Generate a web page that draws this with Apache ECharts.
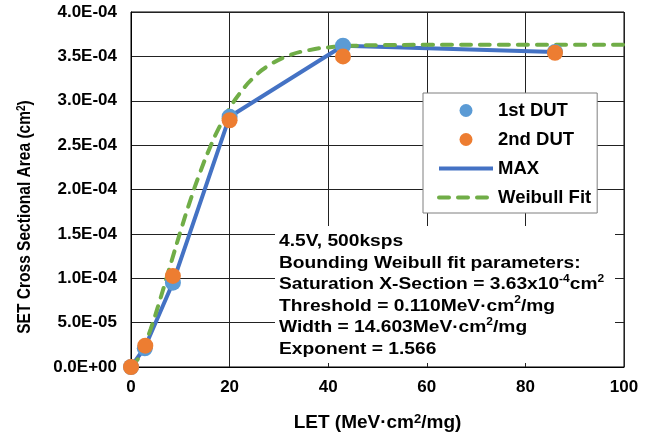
<!DOCTYPE html>
<html><head><meta charset="utf-8">
<script src="https://cdn.jsdelivr.net/npm/echarts@6/dist/echarts.min.js"></script>
<style>html,body{margin:0;padding:0;background:#fff}#c{width:652px;height:441px}</style>
</head><body><div id="c"></div>
<script>
const xTicks = [0, 20, 40, 60, 80, 100];
const dut1LET = [0, 2.8, 8.5, 20, 43, 86];
const dut1XS = [0, 2.1e-5, 0.95e-4, 2.82e-4, 3.62e-4, 3.55e-4];
const dut2LET = [0, 2.9, 8.5, 20, 43, 86];
const dut2XS = [0, 2.4e-5, 1.026e-4, 2.78e-4, 3.50e-4, 3.54e-4];
const maxLET = [0, 2.8, 8.5, 20, 43, 86];
const maxXS = [0, 2.2e-5, 0.95e-4, 2.82e-4, 3.62e-4, 3.55e-4];
const weibullLET = [0.11, 2, 4, 6, 8, 10, 12, 14, 16, 18, 20, 22, 25, 28, 32, 36, 40, 45, 50, 60, 80, 100];
const weibullXS = [0, 1.45e-5, 4.30e-5, 7.78e-5, 1.151e-4, 1.521e-4, 1.872e-4, 2.190e-4, 2.471e-4, 2.712e-4, 2.913e-4, 3.079e-4, 3.268e-4, 3.399e-4, 3.509e-4, 3.569e-4, 3.601e-4, 3.619e-4, 3.626e-4, 3.63e-4, 3.63e-4, 3.63e-4];

const zip = (a, b) => a.map((v, i) => [v, b[i]]);
const FONT = '"Liberation Sans", Arial, sans-serif';
function fmtY(v) {
  if (Math.abs(v) < 1e-12) return '0.0E+00';
  const s = v.toExponential(1);
  const parts = s.split('e');
  const n = parseInt(parts[1], 10);
  return parts[0] + 'E' + (n < 0 ? '-' : '+') + String(Math.abs(n)).padStart(2, '0');
}
const chart = echarts.init(document.getElementById('c'), null, {renderer: 'canvas'});
chart.setOption({
  animation: false,
  backgroundColor: '#fff',
  grid: {left: 131, right: 28, top: 12, bottom: 74, show: true, borderColor: '#000', borderWidth: 1},
  xAxis: {
    type: 'value', min: xTicks[0], max: xTicks[xTicks.length - 1], interval: 20,
    axisLine: {lineStyle: {color: '#000', width: 1}},
    axisTick: {show: false},
    splitLine: {show: true, lineStyle: {color: '#222', width: 1}},
    axisLabel: {fontSize: 17, fontWeight: 'bold', fontFamily: FONT, color: '#000', margin: 12},
    name: 'LET (MeV·cm{sup|2}/mg)', nameLocation: 'middle', nameGap: 46,
    nameTextStyle: {fontSize: 19, fontWeight: 'bold', fontFamily: FONT, color: '#000',
      rich: {sup: {fontSize: 13, fontWeight: 'bold', fontFamily: FONT, color: '#000', verticalAlign: 'top', lineHeight: 12}}}
  },
  yAxis: {
    type: 'value', min: 0, max: 4e-4, interval: 5e-5,
    axisLine: {show: true, lineStyle: {color: '#000', width: 1}},
    axisTick: {show: false},
    splitLine: {show: true, lineStyle: {color: '#222', width: 1}},
    axisLabel: {fontSize: 17, fontWeight: 'bold', fontFamily: FONT, color: '#000', margin: 14, formatter: fmtY}
  },
  legend: {
    orient: 'vertical', left: 423, top: 93,
    padding: [8, 6, 6, 14], itemGap: 10, itemWidth: 54, itemHeight: 13,
    backgroundColor: '#fff', borderColor: '#7f7f7f', borderWidth: 1,
    textStyle: {fontSize: 18.5, fontWeight: 'bold', fontFamily: FONT, color: '#000'},
    lineStyle: {width: 4},
    data: ['1st DUT', '2nd DUT',
      {name: 'MAX', itemStyle: {opacity: 0}, lineStyle: {width: 4}},
      {name: 'Weibull Fit', itemStyle: {opacity: 0}, lineStyle: {width: 4}}]
  },
  graphic: [
    {type: 'rect', z: 1, shape: {x: 275, y: 226, width: 340, height: 137}, style: {fill: '#fff'}},
    {type: 'text', z: 2, x: 279, y: 231, scaleX: 1.2, style: {
      text: '4.5V, 500ksps\nBounding Weibull fit parameters:\nSaturation X-Section = 3.63x10{sup|-4}cm{sup|2}\nThreshold = 0.110MeV·cm{sup|2}/mg\nWidth = 14.603MeV·cm{sup|2}/mg\nExponent = 1.566',
      font: 'bold 16px ' + FONT, fill: '#000', lineHeight: 21.5,
      rich: {sup: {fontSize: 10, fontWeight: 'bold', fontFamily: FONT, fill: '#000', verticalAlign: 'top', lineHeight: 12}}
    }},
    {type: 'text', z: 2, x: 25, y: 217, rotation: Math.PI / 2, scaleX: 0.84, style: {
      text: 'SET Cross Sectional Area (cm{sup|2})',
      font: 'bold 18.5px ' + FONT, fill: '#000', align: 'center', verticalAlign: 'middle',
      rich: {sup: {fontSize: 12, fontWeight: 'bold', fontFamily: FONT, fill: '#000', verticalAlign: 'top', lineHeight: 13}}
    }}
  ],
  series: [
    {name: 'MAX', type: 'line', z: 3, data: zip(maxLET, maxXS), symbol: 'none',
      lineStyle: {color: '#4472C4', width: 4}, itemStyle: {color: '#4472C4'}},
    {name: 'Weibull Fit', type: 'line', z: 4, data: zip(weibullLET, weibullXS), symbol: 'none', smooth: true,
      lineStyle: {color: '#70AD47', width: 4, type: [10, 9], cap: 'round'}, itemStyle: {color: '#70AD47'}},
    {name: '1st DUT', type: 'scatter', z: 5, data: zip(dut1LET, dut1XS), symbol: 'circle', symbolSize: 16,
      itemStyle: {color: '#5B9BD5', opacity: 1}},
    {name: '2nd DUT', type: 'scatter', z: 6, data: zip(dut2LET, dut2XS), symbol: 'circle', symbolSize: 16,
      itemStyle: {color: '#ED7D31', opacity: 1}}
  ]
});
</script></body></html>
